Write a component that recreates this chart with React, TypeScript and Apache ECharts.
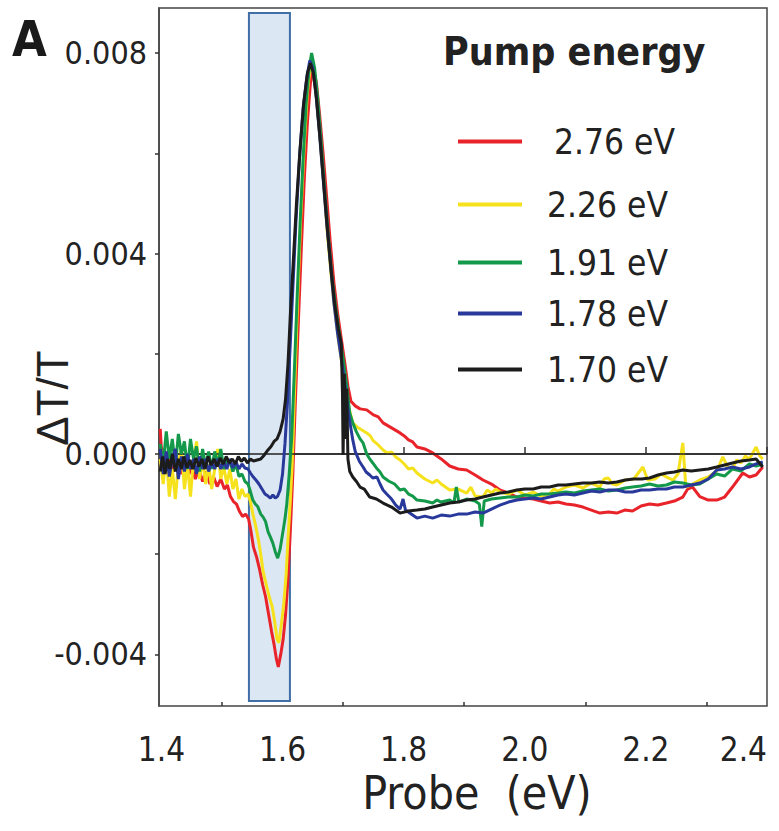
import React, { useEffect, useRef } from "react";
import * as echarts from "echarts";

// ---- data (ΔT/T values in units of 1e-3) ----
const seriesNames = ["2.76 eV", "2.26 eV", "1.91 eV", "1.78 eV", "1.70 eV"];
const seriesColors = ["#e8232a", "#f5e21c", "#14994a", "#29399b", "#1c1c1c"];

const red276: number[][] = [[1.398,0.5],[1.401,-0.1],[1.405,0.1],[1.41,-0.3],[1.415,-0.05],[1.42,-0.35],[1.426,-0.1],[1.432,-0.4],[1.438,-0.2],[1.444,-0.45],[1.45,-0.25],[1.456,-0.5],[1.462,-0.3],[1.468,-0.55],[1.474,-0.35],[1.48,-0.6],[1.486,-0.45],[1.492,-0.65],[1.498,-0.5],[1.504,-0.7],[1.509,-0.62],[1.514,-0.85],[1.519,-0.95],[1.524,-1.0],[1.529,-1.15],[1.534,-1.25],[1.539,-1.2],[1.544,-1.3],[1.548,-1.55],[1.552,-1.86],[1.557,-2.05],[1.562,-2.3],[1.567,-2.6],[1.572,-2.85],[1.577,-3.2],[1.582,-3.55],[1.586,-3.8],[1.59,-4.1],[1.593,-4.25],[1.597,-4.0],[1.601,-3.7],[1.605,-3.2],[1.609,-2.5],[1.613,-1.5],[1.617,-0.4],[1.621,1.0],[1.626,2.6],[1.631,4.1],[1.636,5.5],[1.641,6.6],[1.646,7.4],[1.651,7.7],[1.656,7.4],[1.661,6.8],[1.667,6.0],[1.673,5.1],[1.679,4.2],[1.685,3.4],[1.691,2.8],[1.697,2.3],[1.703,1.8],[1.708,1.35],[1.713,1.05],[1.72,0.96],[1.728,0.9],[1.739,0.88],[1.75,0.78],[1.758,0.74],[1.766,0.62],[1.78,0.52],[1.794,0.42],[1.801,0.36],[1.808,0.28],[1.815,0.24],[1.822,0.14],[1.835,0.1],[1.848,0.02],[1.862,-0.1],[1.876,-0.24],[1.89,-0.3],[1.904,-0.32],[1.918,-0.42],[1.931,-0.52],[1.945,-0.6],[1.959,-0.72],[1.973,-0.78],[1.987,-0.86],[2.0,-0.88],[2.014,-0.9],[2.027,-0.94],[2.041,-0.98],[2.055,-0.96],[2.068,-1.0],[2.082,-1.02],[2.096,-1.06],[2.11,-1.12],[2.124,-1.18],[2.138,-1.16],[2.152,-1.18],[2.165,-1.12],[2.178,-1.14],[2.192,-1.04],[2.206,-1.0],[2.22,-1.02],[2.234,-0.98],[2.247,-0.94],[2.261,-0.86],[2.269,-0.7],[2.277,-0.66],[2.289,-0.85],[2.303,-0.92],[2.317,-0.92],[2.33,-0.86],[2.343,-0.66],[2.36,-0.38],[2.371,-0.46],[2.382,-0.42],[2.393,-0.26]];

const yellow226: number[][] = [[1.398,-0.1],[1.403,-0.6],[1.408,0.0],[1.413,-0.85],[1.418,-0.3],[1.423,-0.9],[1.428,-0.2],[1.433,0.15],[1.438,-0.7],[1.443,-0.2],[1.448,-0.85],[1.453,-0.1],[1.458,0.25],[1.463,-0.5],[1.468,-0.1],[1.473,-0.6],[1.478,-0.2],[1.483,-0.7],[1.488,-0.3],[1.493,0.1],[1.498,-0.5],[1.503,-0.25],[1.508,-0.6],[1.513,-0.3],[1.518,-0.7],[1.523,-0.5],[1.528,-0.9],[1.533,-0.7],[1.538,-0.85],[1.543,-0.8],[1.547,-0.95],[1.551,-1.2],[1.555,-1.4],[1.56,-1.7],[1.564,-2.0],[1.568,-2.35],[1.573,-2.6],[1.578,-2.85],[1.583,-3.05],[1.587,-3.35],[1.591,-3.7],[1.594,-3.77],[1.598,-3.4],[1.602,-3.0],[1.606,-2.4],[1.609,-1.7],[1.613,-0.9],[1.616,-0.2],[1.62,1.3],[1.625,3.1],[1.63,4.7],[1.636,6.2],[1.641,7.2],[1.646,7.75],[1.651,7.6],[1.656,7.1],[1.662,6.3],[1.668,5.4],[1.674,4.4],[1.68,3.6],[1.686,2.9],[1.692,2.3],[1.698,1.8],[1.704,1.3],[1.71,0.9],[1.716,0.62],[1.723,0.54],[1.731,0.48],[1.739,0.42],[1.745,0.36],[1.75,0.26],[1.758,0.18],[1.766,0.08],[1.773,0.02],[1.78,0.04],[1.787,-0.06],[1.794,-0.12],[1.801,-0.2],[1.808,-0.3],[1.815,-0.28],[1.822,-0.38],[1.835,-0.5],[1.848,-0.58],[1.855,-0.52],[1.862,-0.6],[1.869,-0.66],[1.876,-0.72],[1.89,-0.7],[1.904,-0.78],[1.911,-0.66],[1.918,-0.84],[1.931,-0.86],[1.938,-0.72],[1.945,-0.78],[1.952,-0.7],[1.959,-0.76],[1.973,-0.8],[1.987,-0.72],[2.0,-0.82],[2.014,-0.76],[2.027,-0.84],[2.041,-0.8],[2.048,-0.7],[2.055,-0.74],[2.068,-0.66],[2.082,-0.62],[2.096,-0.68],[2.11,-0.58],[2.124,-0.66],[2.131,-0.5],[2.138,-0.48],[2.145,-0.6],[2.152,-0.62],[2.166,-0.52],[2.18,-0.5],[2.195,-0.26],[2.203,-0.52],[2.215,-0.5],[2.225,-0.4],[2.234,-0.46],[2.245,-0.52],[2.253,-0.4],[2.261,0.22],[2.266,-0.66],[2.277,-0.6],[2.289,-0.52],[2.303,-0.46],[2.317,-0.34],[2.327,-0.06],[2.335,-0.26],[2.343,-0.3],[2.35,-0.12],[2.357,-0.18],[2.364,-0.04],[2.371,-0.1],[2.382,0.14],[2.388,-0.04],[2.393,-0.1]];

const green191: number[][] = [[1.398,0.2],[1.403,-0.2],[1.408,0.45],[1.413,-0.1],[1.418,0.3],[1.423,-0.25],[1.428,0.4],[1.433,0.0],[1.438,0.25],[1.443,-0.3],[1.448,0.3],[1.453,-0.1],[1.458,0.15],[1.463,-0.35],[1.468,0.1],[1.473,-0.25],[1.478,0.05],[1.483,-0.3],[1.488,0.05],[1.493,-0.2],[1.498,0.1],[1.503,-0.3],[1.508,-0.1],[1.513,-0.15],[1.518,-0.35],[1.523,-0.2],[1.528,-0.45],[1.533,-0.4],[1.538,-0.55],[1.543,-0.6],[1.547,-0.75],[1.551,-0.92],[1.555,-1.0],[1.559,-1.05],[1.564,-1.2],[1.568,-1.26],[1.572,-1.35],[1.576,-1.55],[1.58,-1.66],[1.584,-1.78],[1.588,-1.95],[1.592,-2.08],[1.596,-1.9],[1.6,-1.6],[1.604,-1.3],[1.607,-1.0],[1.611,-0.4],[1.615,0.3],[1.619,1.5],[1.624,3.1],[1.629,4.6],[1.634,5.9],[1.639,7.0],[1.644,7.7],[1.648,8.0],[1.653,7.7],[1.658,7.1],[1.664,6.2],[1.67,5.2],[1.676,4.3],[1.682,3.5],[1.688,2.9],[1.694,2.4],[1.7,1.9],[1.706,1.35],[1.711,0.82],[1.716,0.62],[1.722,0.44],[1.728,0.3],[1.733,0.22],[1.739,0.0],[1.744,-0.1],[1.749,-0.18],[1.755,-0.28],[1.761,-0.36],[1.766,-0.46],[1.775,-0.54],[1.785,-0.6],[1.794,-0.72],[1.801,-0.7],[1.808,-0.8],[1.815,-0.84],[1.822,-0.92],[1.835,-0.94],[1.848,-0.98],[1.855,-0.92],[1.862,-0.96],[1.876,-0.92],[1.883,-0.98],[1.887,-0.66],[1.891,-0.96],[1.904,-0.9],[1.918,-0.94],[1.925,-1.0],[1.929,-1.45],[1.933,-0.94],[1.945,-0.9],[1.959,-0.88],[1.973,-0.86],[1.987,-0.86],[2.0,-0.82],[2.014,-0.84],[2.027,-0.8],[2.041,-0.8],[2.055,-0.78],[2.068,-0.76],[2.082,-0.78],[2.096,-0.74],[2.11,-0.72],[2.124,-0.7],[2.138,-0.74],[2.152,-0.72],[2.166,-0.68],[2.178,-0.66],[2.192,-0.64],[2.206,-0.6],[2.22,-0.64],[2.234,-0.62],[2.247,-0.56],[2.261,-0.58],[2.275,-0.62],[2.289,-0.6],[2.303,-0.5],[2.317,-0.4],[2.33,-0.44],[2.343,-0.3],[2.357,-0.34],[2.371,-0.2],[2.382,-0.24],[2.393,-0.2]];

const blue178: number[][] = [[1.398,0.1],[1.403,-0.4],[1.408,0.05],[1.413,-0.45],[1.418,-0.1],[1.423,0.1],[1.428,-0.5],[1.433,-0.05],[1.438,-0.35],[1.443,0.0],[1.448,-0.3],[1.453,-0.1],[1.458,-0.4],[1.463,-0.05],[1.468,-0.3],[1.473,-0.1],[1.478,-0.35],[1.483,-0.15],[1.488,-0.3],[1.493,-0.1],[1.498,-0.3],[1.503,-0.15],[1.508,-0.3],[1.513,-0.1],[1.518,-0.28],[1.523,-0.15],[1.528,-0.3],[1.533,-0.2],[1.538,-0.28],[1.543,-0.3],[1.547,-0.38],[1.551,-0.45],[1.556,-0.52],[1.561,-0.6],[1.566,-0.7],[1.571,-0.8],[1.576,-0.84],[1.58,-0.88],[1.584,-0.82],[1.588,-0.88],[1.592,-0.84],[1.596,-0.72],[1.6,-0.4],[1.604,0.2],[1.608,1.0],[1.612,2.0],[1.617,3.3],[1.622,4.6],[1.628,5.9],[1.634,6.9],[1.64,7.5],[1.645,7.85],[1.65,7.7],[1.655,7.2],[1.661,6.4],[1.667,5.5],[1.673,4.6],[1.679,3.8],[1.685,3.0],[1.691,2.4],[1.697,1.9],[1.703,1.4],[1.709,0.8],[1.716,0.28],[1.72,0.05],[1.727,-0.15],[1.733,-0.26],[1.738,-0.36],[1.744,-0.42],[1.749,-0.48],[1.756,-0.46],[1.761,-0.6],[1.766,-0.72],[1.772,-0.8],[1.78,-0.9],[1.787,-1.02],[1.794,-1.1],[1.799,-0.9],[1.803,-1.12],[1.81,-1.18],[1.822,-1.28],[1.835,-1.24],[1.848,-1.28],[1.862,-1.22],[1.876,-1.24],[1.89,-1.2],[1.904,-1.2],[1.918,-1.16],[1.931,-1.18],[1.945,-1.1],[1.959,-1.02],[1.973,-0.96],[1.987,-0.92],[2.0,-0.9],[2.014,-0.88],[2.027,-0.9],[2.041,-0.86],[2.055,-0.82],[2.068,-0.8],[2.082,-0.82],[2.096,-0.78],[2.11,-0.74],[2.124,-0.76],[2.138,-0.72],[2.152,-0.72],[2.166,-0.76],[2.178,-0.76],[2.192,-0.72],[2.206,-0.72],[2.22,-0.7],[2.234,-0.7],[2.247,-0.66],[2.261,-0.66],[2.275,-0.62],[2.289,-0.58],[2.303,-0.5],[2.317,-0.32],[2.33,-0.3],[2.343,-0.26],[2.357,-0.3],[2.371,-0.26],[2.382,-0.2],[2.393,-0.16]];

const black170: number[][] = [[1.398,-0.35],[1.402,-0.05],[1.406,-0.4],[1.41,-0.1],[1.414,-0.3],[1.418,0.0],[1.423,-0.35],[1.428,-0.1],[1.433,-0.3],[1.437,-0.05],[1.442,-0.28],[1.447,-0.12],[1.452,-0.3],[1.457,-0.08],[1.462,-0.25],[1.467,-0.1],[1.472,-0.3],[1.477,-0.05],[1.482,-0.22],[1.487,-0.1],[1.492,-0.25],[1.497,-0.08],[1.502,-0.2],[1.507,-0.05],[1.512,-0.18],[1.517,-0.1],[1.522,-0.2],[1.527,-0.05],[1.532,-0.15],[1.537,-0.08],[1.542,-0.18],[1.547,-0.1],[1.552,-0.14],[1.558,-0.12],[1.564,-0.1],[1.57,-0.02],[1.576,0.08],[1.581,0.15],[1.586,0.25],[1.591,0.3],[1.596,0.45],[1.601,0.7],[1.605,1.1],[1.609,1.8],[1.613,2.8],[1.618,3.9],[1.623,5.0],[1.629,6.1],[1.635,7.0],[1.641,7.6],[1.646,7.8],[1.651,7.6],[1.656,7.1],[1.662,6.3],[1.668,5.4],[1.674,4.5],[1.68,3.7],[1.686,3.0],[1.692,2.5],[1.697,2.2],[1.699,1.2],[1.7,-0.02],[1.702,1.6],[1.704,0.3],[1.706,1.3],[1.708,-0.1],[1.711,-0.35],[1.716,-0.46],[1.722,-0.55],[1.728,-0.66],[1.735,-0.7],[1.744,-0.86],[1.755,-0.9],[1.766,-0.98],[1.78,-1.06],[1.794,-1.18],[1.808,-1.14],[1.822,-1.12],[1.835,-1.1],[1.848,-1.06],[1.862,-1.02],[1.876,-0.98],[1.89,-0.96],[1.904,-0.92],[1.918,-0.9],[1.931,-0.86],[1.945,-0.82],[1.959,-0.78],[1.973,-0.76],[1.987,-0.72],[2.0,-0.7],[2.014,-0.7],[2.027,-0.66],[2.041,-0.66],[2.055,-0.62],[2.068,-0.62],[2.082,-0.6],[2.096,-0.58],[2.11,-0.58],[2.124,-0.56],[2.138,-0.58],[2.152,-0.56],[2.166,-0.52],[2.18,-0.5],[2.193,-0.5],[2.206,-0.48],[2.22,-0.42],[2.234,-0.38],[2.247,-0.36],[2.261,-0.32],[2.275,-0.34],[2.289,-0.32],[2.303,-0.3],[2.317,-0.26],[2.33,-0.22],[2.343,-0.18],[2.357,-0.14],[2.371,-0.12],[2.382,-0.1],[2.393,-0.26]];

const seriesData = [red276, yellow226, green191, blue178, black170];

// axes
const xRange = [1.396, 2.4];
const yRange = [-0.00503, 0.0089];
const xTickLabels = [1.4, 1.6, 1.8, 2.0, 2.2, 2.4];
const xMinorTicks = [1.5, 1.7, 1.9, 2.1, 2.3];
const yTickLabels = [-0.004, 0, 0.004, 0.008];
const yTicks = [-0.004, -0.002, 0, 0.002, 0.004, 0.006, 0.008];
// shaded probe window [x0, x1], [yBottom, yTop]
const bandX = [1.5445, 1.6122];
const bandY = [-0.00493, 0.0088];

const NARROW = "'Liberation Sans Narrow', 'Arial Narrow', 'DejaVu Sans Condensed', sans-serif";
const legendLineY = [148, 211, 269, 320, 376];
const legendTextPad = [27, 20, 20, 20, 20];

export default function App() {
  const ref = useRef<HTMLDivElement>(null);
  useEffect(() => {
    if (!ref.current) return;
    const chart = echarts.init(ref.current, undefined, { renderer: "svg" });
    const lines = seriesNames.map((name, i) => ({
      name,
      type: "line",
      data: seriesData[i].map((p) => [p[0], p[1] / 1000]),
      showSymbol: false,
      symbol: "none",
      z: 3 + i,
      silent: true,
      clip: true,
      itemStyle: { color: seriesColors[i] },
      lineStyle: { color: seriesColors[i], width: 3 },
      emphasis: { disabled: true },
    }));
    const option: any = {
      animation: false,
      backgroundColor: "#ffffff",
      title: [
        { text: "A", left: 12, top: 14, padding: 0, textStyle: { fontSize: 50, fontWeight: "bold", fontFamily: NARROW, color: "#1a1a1a" } },
        { text: "Pump energy", left: 443, top: 32, padding: 0, textStyle: { fontSize: 39, fontWeight: "bold", fontFamily: NARROW, color: "#222" } },
      ],
      legend: seriesNames.map((n, i) => ({
        data: [n],
        left: 458,
        top: legendLineY[i] - 24,
        padding: 0,
        icon: "rect",
        itemWidth: 64,
        itemHeight: 4,
        selectedMode: false,
        textStyle: { fontSize: 35, fontFamily: NARROW, color: "#222", padding: [0, 0, 10, legendTextPad[i]] },
      })),
      grid: {
        left: 159, top: 8, width: 608, height: 698,
        show: true, borderColor: "#444", borderWidth: 1.5,
        containLabel: false, outerBoundsMode: "none",
      },
      xAxis: [
        {
          type: "value", min: xRange[0], max: xRange[1], position: "bottom",
          name: "Probe  (eV)", nameLocation: "middle", nameGap: 64, nameMoveOverlap: false,
          nameTextStyle: { fontSize: 46, fontFamily: NARROW, color: "#222", padding: [0, 0, 0, 28] },
          axisLine: { show: true, lineStyle: { color: "#444", width: 1.5 } },
          axisTick: { show: true, inside: true, length: 7, customValues: xTickLabels, lineStyle: { color: "#333", width: 1.5 } },
          axisLabel: { customValues: xTickLabels, formatter: (v: number) => v.toFixed(1), fontSize: 33, fontFamily: NARROW, color: "#222", margin: 27, alignMaxLabel: "right" },
          splitLine: { show: false },
        },
        {
          type: "value", min: xRange[0], max: xRange[1], position: "bottom",
          axisLine: { show: false },
          axisTick: { show: true, inside: true, length: 4, customValues: xMinorTicks, lineStyle: { color: "#333", width: 1.5 } },
          axisLabel: { show: false },
          splitLine: { show: false },
        },
      ],
      yAxis: {
        type: "value", min: yRange[0], max: yRange[1],
        name: "ΔT/T", nameLocation: "middle", nameGap: 85, nameRotate: 90, nameMoveOverlap: false,
        nameTextStyle: { fontSize: 44, fontFamily: "'Liberation Sans', Arial, sans-serif", color: "#222", padding: [0, 82, 0, 0] },
        axisLine: { show: true, lineStyle: { color: "#444", width: 1.5 } },
        axisTick: { show: true, inside: false, length: 4, customValues: yTicks, lineStyle: { color: "#333", width: 1.5 } },
        axisLabel: { customValues: yTickLabels, formatter: (v: number) => v.toFixed(3), fontSize: 32, fontFamily: NARROW, color: "#222", margin: 12 },
        splitLine: { show: false },
      },
      series: [
        {
          type: "line", data: [], z: 1, silent: true,
          markArea: {
            silent: true,
            itemStyle: { color: "#dce7f4", borderColor: "#3f6fa6", borderWidth: 2 },
            data: [[{ coord: [bandX[0], bandY[1]] }, { coord: [bandX[1], bandY[0]] }]],
          },
          markLine: {
            silent: true, symbol: ["none", "none"], label: { show: false },
            lineStyle: { color: "#222", width: 1.5, type: "solid" },
            data: [{ yAxis: 0 }],
          },
        },
        ...lines,
      ],
    };
    chart.setOption(option);
    return () => chart.dispose();
  }, []);
  return <div ref={ref} style={{ position: "absolute", left: 0, top: 0, width: 779, height: 831 }} />;
}
